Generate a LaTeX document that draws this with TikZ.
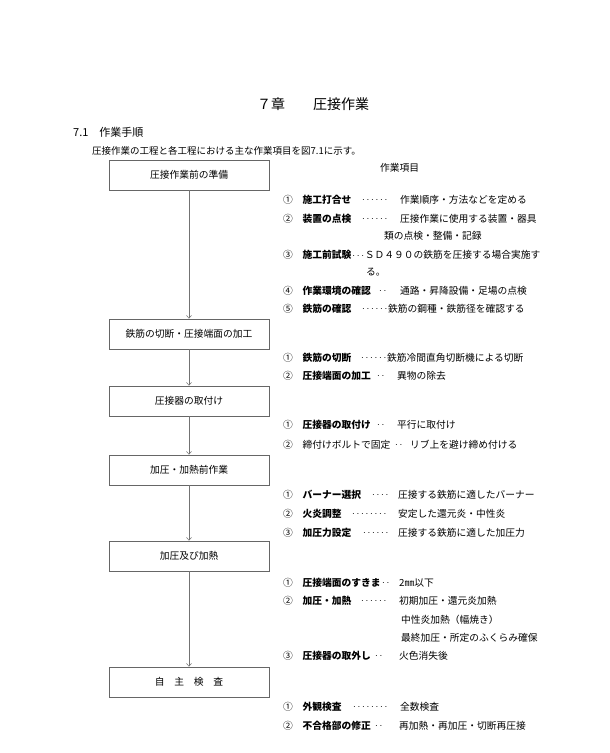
\documentclass[tikz,border=0pt]{standalone}
\usepackage{fontspec}
\setmainfont{Noto Sans CJK JP}
\usetikzlibrary{arrows.meta,positioning}
\newcommand\leaderdots[1]{\foreach\k in {1,...,#1}{\makebox[4.5pt]{$\cdot$}}}

\begin{document}
\begin{tikzpicture}[
  x=1pt, y=-1pt,
  stage/.style={draw=black!60, line width=0.6pt, minimum width=160pt, minimum height=30pt,
                inner sep=0pt, font=\fontsize{9.75}{11}\selectfont},
  item/.style={anchor=west, inner sep=0pt, font=\fontsize{9.75}{11}\selectfont},
  flow/.style={draw=black!55, line width=0.5pt, -{Straight Barb[length=3pt,width=5pt]}}
]
\useasboundingbox[fill=white] (0,0) rectangle (610,753);
% headings
\node[item, font=\fontsize{14}{16}\selectfont] (title) at (257,104) {７章　　圧接作業};
\node[item, font=\fontsize{11}{13}\selectfont] (sec) at (73,132) {7.1　作業手順};
\node[item, font=\fontsize{9.5}{11}\selectfont] (intro) at (92,151) {圧接作業の工程と各工程における主な作業項目を図7.1に示す。};
\node[item] (head) at (380,168) {作業項目};

% stages
\node[stage] (s1) at (189,175) {圧接作業前の準備};
\node[stage] (s2) at (189,334) {鉄筋の切断・圧接端面の加工};
\node[stage] (s3) at (189,401) {圧接器の取付け};
\node[stage] (s4) at (189,470) {加圧・加熱前作業};
\node[stage] (s5) at (189,556) {加圧及び加熱};
\node[stage] (s6) at (189,682) {自　主　検　査};
\draw[flow] (s1) -- (s2);
\draw[flow] (s2) -- (s3);
\draw[flow] (s3) -- (s4);
\draw[flow] (s4) -- (s5);
\draw[flow] (s5) -- (s6);

% items: preparation
\node[item] (a1) at (283,200) {①　\textbf{施工打合せ}};
\node[item] (a1x) at (361,200) {\leaderdots{6}};
\node[item] (a1d) at (400,200) {作業順序・方法などを定める};
\node[item] (a2) at (283,219) {②　\textbf{装置の点検}};
\node[item] (a2x) at (361,219) {\leaderdots{6}};
\node[item] (a2d) at (400,219) {圧接作業に使用する装置・器具};
\node[item] (a2e) at (384,236) {類の点検・整備・記録};
\node[item] (a3) at (283,255) {③　\textbf{施工前試験}\leaderdots{3}ＳＤ４９０の鉄筋を圧接する場合実施す};
\node[item] (a3e) at (366,272) {る。};
\node[item] (a4) at (283,291) {④　\textbf{作業環境の確認}};
\node[item] (a4x) at (378,291) {\leaderdots{2}};
\node[item] (a4d) at (400,291) {通路・昇降設備・足場の点検};
\node[item] (a5) at (283,309) {⑤　\textbf{鉄筋の確認}};
\node[item] (a5x) at (361,309) {\leaderdots{6}};
\node[item] (a5d) at (388,309) {鉄筋の鋼種・鉄筋径を確認する};

% items: cutting
\node[item] (b1) at (283,358) {①　\textbf{鉄筋の切断}};
\node[item] (b1x) at (360,358) {\leaderdots{6}};
\node[item] (b1d) at (387,358) {鉄筋冷間直角切断機による切断};
\node[item] (b2) at (283,376) {②　\textbf{圧接端面の加工}};
\node[item] (b2x) at (376,376) {\leaderdots{2}};
\node[item] (b2d) at (397,376) {異物の除去};

% items: mounting
\node[item] (c1) at (283,425) {①　\textbf{圧接器の取付け}};
\node[item] (c1x) at (376,425) {\leaderdots{2}};
\node[item] (c1d) at (397,425) {平行に取付け};
\node[item] (c2) at (283,445) {②　締付けボルトで固定};
\node[item] (c2x) at (394,445) {\leaderdots{2}};
\node[item] (c2d) at (410,445) {リブ上を避け締め付ける};

% items: before pressing
\node[item] (d1) at (283,495) {①　\textbf{バーナー選択}};
\node[item] (d1x) at (371,495) {\leaderdots{4}};
\node[item] (d1d) at (398,495) {圧接する鉄筋に適したバーナー};
\node[item] (d2) at (283,514) {②　\textbf{火炎調整}};
\node[item] (d2x) at (351,514) {\leaderdots{8}};
\node[item] (d2d) at (398,514) {安定した還元炎・中性炎};
\node[item] (d3) at (283,533) {③　\textbf{加圧力設定}};
\node[item] (d3x) at (362,533) {\leaderdots{6}};
\node[item] (d3d) at (398,533) {圧接する鉄筋に適した加圧力};

% items: pressing and heating
\node[item] (e1) at (283,583) {①　\textbf{圧接端面のすきま}};
\node[item] (e1x) at (381,583) {\leaderdots{2}};
\node[item] (e1d) at (399,583) {2㎜以下};
\node[item] (e2) at (283,601) {②　\textbf{加圧・加熱}};
\node[item] (e2x) at (360,601) {\leaderdots{6}};
\node[item] (e2d) at (399,601) {初期加圧・還元炎加熱};
\node[item] (e2e) at (401,620) {中性炎加熱（幅焼き）};
\node[item] (e2f) at (401,638) {最終加圧・所定のふくらみ確保};
\node[item] (e3) at (283,656) {③　\textbf{圧接器の取外し}};
\node[item] (e3x) at (374,656) {\leaderdots{2}};
\node[item] (e3d) at (399,656) {火色消失後};

% items: inspection
\node[item] (f1) at (283,707) {①　\textbf{外観検査}};
\node[item] (f1x) at (352,707) {\leaderdots{8}};
\node[item] (f1d) at (400,707) {全数検査};
\node[item] (f2) at (283,726) {②　\textbf{不合格部の修正}};
\node[item] (f2x) at (374,726) {\leaderdots{2}};
\node[item] (f2d) at (399,726) {再加熱・再加圧・切断再圧接};
\end{tikzpicture}
\end{document}
